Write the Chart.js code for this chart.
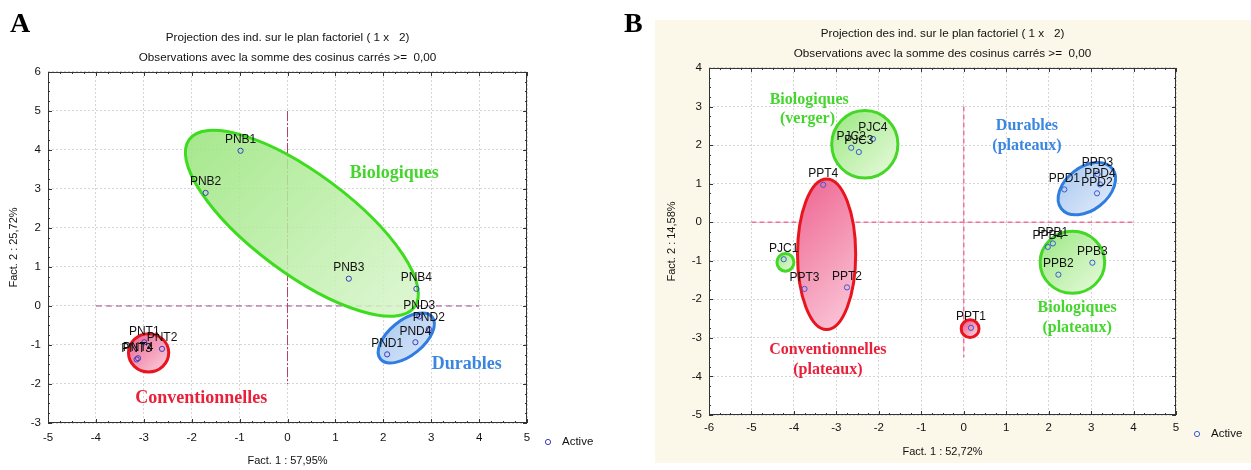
<!DOCTYPE html>
<html>
<head>
<meta charset="utf-8">
<script src="https://cdn.jsdelivr.net/npm/chart.js@4.4.1/dist/chart.umd.min.js"></script>
<style>
  body { margin: 0; background: #fff; width: 1251px; height: 470px; overflow: hidden; position: relative; }
  #fondB { position: absolute; left: 655px; top: 20px; width: 596px; height: 443px; background: #fbf8ea; }
  #boxA { position: absolute; left: 0; top: 0; width: 625px; height: 470px; }
  #boxB { position: absolute; left: 625px; top: 0; width: 626px; height: 470px; }
  .lettre { position: absolute; font: bold 28px "Liberation Serif", serif; color: #000; line-height: 1; }
</style>
</head>
<body>
<div id="fondB"></div>
<div id="boxA"><canvas id="chartA"></canvas></div>
<div id="boxB"><canvas id="chartB"></canvas></div>
<div class="lettre" style="left:10px; top:9px;">A</div>
<div class="lettre" style="left:624px; top:9px;">B</div>
<script>
// ---- Panneau A ----
const nomsA = ['PNB1', 'PNB2', 'PNB3', 'PNB4', 'PND1', 'PND2', 'PND3', 'PND4', 'PNT1', 'PNT2', 'PNT3', 'PNT4'];
const fact1A = [-0.98, -1.71, 1.28, 2.69, 2.08, 2.95, 2.75, 2.67, -2.99, -2.62, -3.15, -3.12];
const fact2A = [3.98, 2.90, 0.70, 0.44, -1.24, -0.59, -0.27, -0.93, -0.93, -1.10, -1.37, -1.34];
const ticksXA = [-5, -4, -3, -2, -1, 0, 1, 2, 3, 4, 5];
const ticksYA = [-3, -2, -1, 0, 1, 2, 3, 4, 5, 6];

// ---- Panneau B ----
const nomsB = ['PJC1', 'PJC2', 'PJC3', 'PJC4', 'PPT1', 'PPT2', 'PPT3', 'PPT4',
               'PPB1', 'PPB2', 'PPB3', 'PPB4', 'PPD1', 'PPD2', 'PPD3', 'PPD4'];
const fact1B = [-4.24, -2.65, -2.47, -2.14, 0.17, -2.75, -3.75, -3.31,
                2.10, 2.23, 3.03, 1.98, 2.37, 3.14, 3.15, 3.21];
const fact2B = [-0.96, 1.93, 1.82, 2.16, -2.74, -1.69, -1.73, 0.97,
                -0.55, -1.36, -1.05, -0.64, 0.85, 0.75, 1.25, 0.98];
const ticksXB = [-6, -5, -4, -3, -2, -1, 0, 1, 2, 3, 4, 5];
const ticksYB = [-5, -4, -3, -2, -1, 0, 1, 2, 3, 4];

const police = '"Liberation Sans", Arial, sans-serif';
const serif = '"Liberation Serif", "Times New Roman", serif';

// groupes (ellipses) : centre, extrémité du grand axe, rapport petit/grand axe
const groupesA = [
  { c: [0.30, 2.12], tip: [2.65, -0.03], ratio: 0.357, fill: ['rgba(150,228,120,0.85)', 'rgba(218,246,205,0.85)'], stroke: '#3ddc1f' },
  { c: [2.48, -0.82], tip: [3.02, -0.28], ratio: 0.52, fill: ['#a9c8f1', '#dbe8f9'], stroke: '#2f7de0' },
  { c: [-2.90, -1.20], tip: [-2.48, -1.20], ratio: 0.95, fill: ['#ef6f98', '#f9c6d6'], stroke: '#e8141e' }
];
const groupesB = [
  { c: [-2.33, 2.02], tip: [-1.55, 2.02], ratio: 1.02, fill: ['#a4ea8c', '#e0f8d4'], stroke: '#44d826' },
  { c: [-3.23, -0.83], tip: [-2.545, -0.83], ratio: 2.59, fill: ['#ee5f8e', '#fbd0de'], stroke: '#e8141e' },
  { c: [-4.20, -1.04], tip: [-4.00, -1.04], ratio: 1.05, fill: ['#a4ea8c', '#e0f8d4'], stroke: '#44d826' },
  { c: [0.15, -2.76], tip: [0.36, -2.76], ratio: 1.0, fill: ['#ee5f8e', '#fbd0de'], stroke: '#e8141e' },
  { c: [2.90, 0.87], tip: [3.50, 1.39], ratio: 0.66, fill: ['#a9c8f1', '#e2ecfa'], stroke: '#2f7de0' },
  { c: [2.56, -1.04], tip: [3.32, -1.04], ratio: 0.96, fill: ['#a4ea8c', '#e0f8d4'], stroke: '#44d826' }
];

// lignes de référence (axes factoriels)
const refsA = [
  { x: [-4, 4], y: [0, 0], color: '#9c4a86', dash: [6, 4], width: 1 },
  { x: [0, 0], y: [5, -2], color: '#b8406c', dash: [10, 2, 2, 2], width: 1 }
];
const refsB = [
  { x: [-5, 4], y: [0, 0], color: '#f0709a', dash: [5, 3], width: 1.5 },
  { x: [0, 0], y: [3, -3.5], color: '#f0709a', dash: [5, 3], width: 1.5 }
];

// étiquettes des groupes
const textesA = [
  { t: 'Biologiques', x: 2.23, y: 3.41, color: '#44d62c' },
  { t: 'Durables', x: 3.74, y: -1.50, color: '#3a86e0' },
  { t: 'Conventionnelles', x: -1.80, y: -2.36, color: '#e8203a' }
];
const textesB = [
  { t: 'Biologiques', x: -3.64, y: 3.18, color: '#44d62c' },
  { t: '(verger)', x: -3.68, y: 2.68, color: '#44d62c' },
  { t: 'Durables', x: 1.49, y: 2.51, color: '#3a86e0' },
  { t: '(plateaux)', x: 1.49, y: 1.99, color: '#3a86e0' },
  { t: 'Conventionnelles', x: -3.20, y: -3.30, color: '#e8203a' },
  { t: '(plateaux)', x: -3.20, y: -3.82, color: '#e8203a' },
  { t: 'Biologiques', x: 2.67, y: -2.23, color: '#44d62c' },
  { t: '(plateaux)', x: 2.67, y: -2.73, color: '#44d62c' }
];

function decor(noms, groupes, refs, textes, tailleTexte, couleurPoint) {
  return {
    id: 'decor',
    beforeDraw(chart) {
      const a = chart.chartArea, ctx = chart.ctx;
      ctx.save();
      ctx.fillStyle = '#fff';
      ctx.fillRect(a.left, a.top, a.right - a.left, a.bottom - a.top);
      ctx.restore();
    },
    beforeDatasetsDraw(chart) {
      const { ctx, scales: { x, y } } = chart;
      ctx.save();
      refs.forEach(r => {
        ctx.strokeStyle = r.color;
        ctx.lineWidth = r.width;
        ctx.setLineDash(r.dash);
        ctx.beginPath();
        ctx.moveTo(x.getPixelForValue(r.x[0]), y.getPixelForValue(r.y[0]));
        ctx.lineTo(x.getPixelForValue(r.x[1]), y.getPixelForValue(r.y[1]));
        ctx.stroke();
      });
      ctx.setLineDash([]);
      groupes.forEach(g => {
        const cx = x.getPixelForValue(g.c[0]), cy = y.getPixelForValue(g.c[1]);
        const tx = x.getPixelForValue(g.tip[0]), ty = y.getPixelForValue(g.tip[1]);
        const ga = Math.hypot(tx - cx, ty - cy);
        const rot = Math.atan2(ty - cy, tx - cx);
        const gb = ga * g.ratio;
        const m = Math.max(ga, gb) * 0.75;
        const grad = ctx.createLinearGradient(cx - m, cy - m, cx + m, cy + m);
        grad.addColorStop(0, g.fill[0]);
        grad.addColorStop(1, g.fill[1]);
        ctx.beginPath();
        ctx.ellipse(cx, cy, ga, gb, rot, 0, Math.PI * 2);
        ctx.fillStyle = grad;
        ctx.fill();
        ctx.lineWidth = 3;
        ctx.strokeStyle = g.stroke;
        ctx.stroke();
      });
      ctx.restore();
    },
    afterDatasetsDraw(chart) {
      const { ctx, scales: { x, y } } = chart;
      ctx.save();
      ctx.font = '12px ' + police;
      ctx.fillStyle = '#111';
      ctx.textAlign = 'center';
      ctx.textBaseline = 'middle';
      chart.getDatasetMeta(0).data.forEach((pt, i) => {
        ctx.fillText(noms[i], pt.x, pt.y - 11);
      });
      ctx.font = 'bold ' + tailleTexte + 'px ' + serif;
      textes.forEach(t => {
        ctx.fillStyle = t.color;
        ctx.fillText(t.t, x.getPixelForValue(t.x), y.getPixelForValue(t.y));
      });
      ctx.restore();
    },
    afterDraw(chart) {
      const { ctx, chartArea: a, scales: { x, y } } = chart;
      ctx.save();
      ctx.strokeStyle = '#333';
      ctx.lineWidth = 1;
      ctx.strokeRect(a.left + 0.5, a.top + 0.5, a.right - a.left - 1, a.bottom - a.top - 1);
      // petites graduations à l'intérieur du cadre
      ctx.beginPath();
      for (let v = x.min; v <= x.max + 1e-6; v += 0.25) {
        const px = Math.round(x.getPixelForValue(v)) + 0.5;
        const l = Math.abs(v - Math.round(v)) < 1e-6 ? 4 : 2;
        ctx.moveTo(px, a.top); ctx.lineTo(px, a.top + l);
        ctx.moveTo(px, a.bottom); ctx.lineTo(px, a.bottom - l);
      }
      for (let v = y.min; v <= y.max + 1e-6; v += 0.25) {
        const py = Math.round(y.getPixelForValue(v)) + 0.5;
        const l = Math.abs(v - Math.round(v)) < 1e-6 ? 4 : 2;
        ctx.moveTo(a.left, py); ctx.lineTo(a.left + l, py);
        ctx.moveTo(a.right, py); ctx.lineTo(a.right - l, py);
      }
      ctx.stroke();
      // légende
      const ly = a.bottom + 19;
      ctx.beginPath();
      ctx.arc(a.right + 21, ly, 2.6, 0, Math.PI * 2);
      ctx.strokeStyle = couleurPoint;
      ctx.stroke();
      ctx.font = '11.5px ' + police;
      ctx.fillStyle = '#111';
      ctx.textBaseline = 'middle';
      ctx.fillText('Active', a.right + 35, ly);
      ctx.restore();
    }
  };
}

function options(p) {
  return {
    responsive: true,
    maintainAspectRatio: false,
    animation: false,
    events: [],
    layout: { padding: { left: p.padLeft, right: p.padRight, top: 0, bottom: 0 } },
    plugins: {
      legend: { display: false },
      tooltip: { enabled: false },
      title: {
        display: true,
        fullSize: false,
        text: p.titre,
        color: '#111',
        font: { family: police, size: 11.7, weight: 'normal', lineHeight: 1.7 },
        padding: { top: p.titreTop, bottom: 4.2 }
      }
    },
    scales: {
      x: {
        type: 'linear', min: p.ticksX[0], max: p.ticksX[p.ticksX.length - 1],
        afterBuildTicks: s => { s.ticks = p.ticksX.map(v => ({ value: v })); },
        afterFit: s => { s.height = p.hautX; },
        grid: { color: '#d6d6d6', drawTicks: false },
        border: { display: false, dash: [2, 2] },
        ticks: { color: '#111', font: { family: police, size: 11.5 }, padding: p.padTickX, maxRotation: 0 },
        title: { display: true, text: p.titreX, color: '#111', font: { family: police, size: 11 }, padding: { top: 0, bottom: p.padTitreX } }
      },
      y: {
        type: 'linear', min: p.ticksY[0], max: p.ticksY[p.ticksY.length - 1],
        afterBuildTicks: s => { s.ticks = p.ticksY.map(v => ({ value: v })); },
        afterFit: s => { s.width = 48; },
        grid: { color: '#d6d6d6', drawTicks: false },
        border: { display: false, dash: [2, 2] },
        ticks: { color: '#111', font: { family: police, size: 11.5 }, padding: 7 },
        title: { display: true, text: p.titreY, color: '#111', font: { family: police, size: 11 }, padding: { top: p.padTitreY, bottom: 0 } }
      }
    }
  };
}

function donnees(f1, f2, couleur) {
  return {
    datasets: [{
      label: 'Active',
      data: f1.map((v, i) => ({ x: v, y: f2[i] })),
      pointRadius: 2.6,
      pointBorderWidth: 1,
      pointBackgroundColor: 'rgba(255,255,255,0)',
      pointBorderColor: couleur,
      showLine: false
    }]
  };
}

new Chart(document.getElementById('chartA'), {
  type: 'scatter',
  data: donnees(fact1A, fact2A, '#3c3cc0'),
  options: options({
    padLeft: 0, padRight: 98, titreTop: 28, hautX: 47, padTickX: 8, padTitreX: 2.4, padTitreY: 7.4,
    ticksX: ticksXA, ticksY: ticksYA,
    titre: ['Projection des ind. sur le plan factoriel ( 1 x   2)', 'Observations avec la somme des cosinus carrés >=  0,00'],
    titreX: 'Fact. 1 : 57,95%', titreY: 'Fact. 2 : 25,72%'
  }),
  plugins: [decor(nomsA, groupesA, refsA, textesA, 18, '#3c3cc0')]
});

new Chart(document.getElementById('chartB'), {
  type: 'scatter',
  data: donnees(fact1B, fact2B, '#3a5ad8'),
  options: options({
    padLeft: 36, padRight: 75, titreTop: 24, hautX: 55, padTickX: 6, padTitreX: 11.4, padTitreY: 4.4,
    ticksX: ticksXB, ticksY: ticksYB,
    titre: ['Projection des ind. sur le plan factoriel ( 1 x   2)', 'Observations avec la somme des cosinus carrés >=  0,00'],
    titreX: 'Fact. 1 : 52,72%', titreY: 'Fact. 2 : 14,58%'
  }),
  plugins: [decor(nomsB, groupesB, refsB, textesB, 16, '#3a5ad8')]
});
</script>
</body>
</html>
